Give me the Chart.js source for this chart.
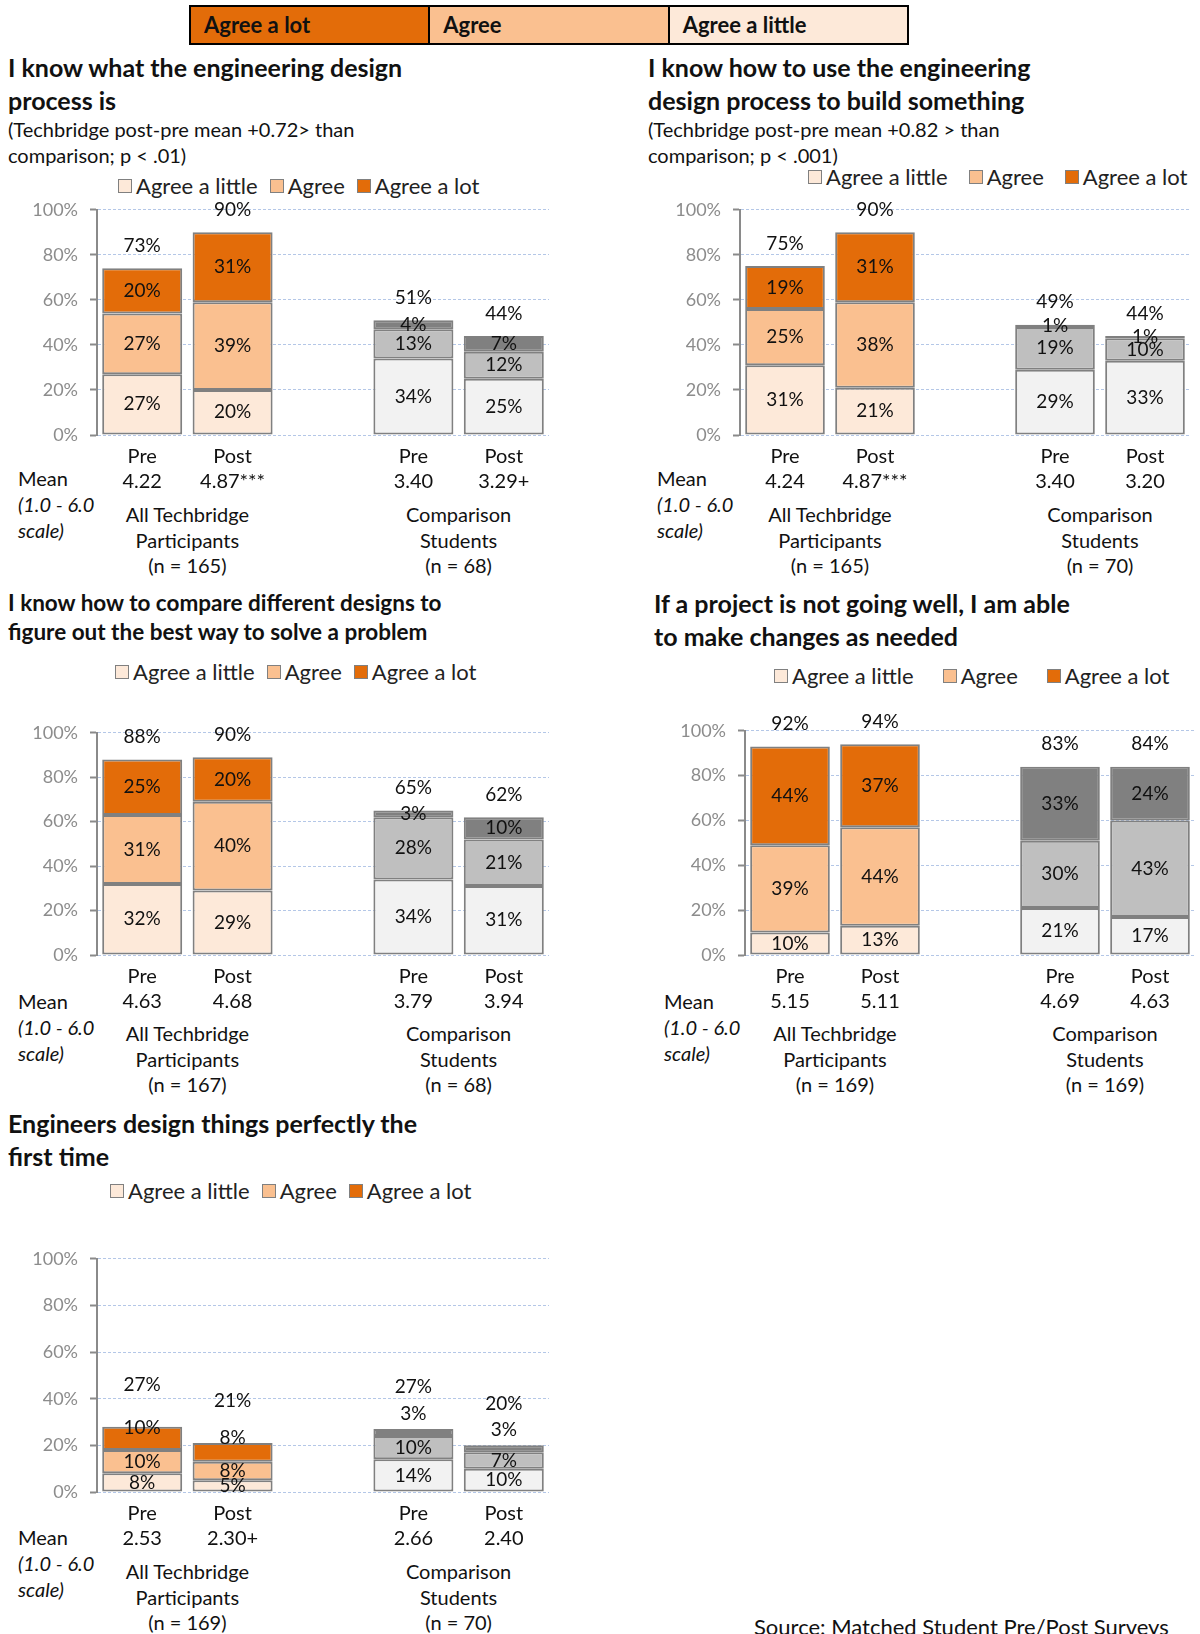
<!DOCTYPE html>
<html lang="en">
<head>
<meta charset="UTF-8">
<title>Engineering design process - pre/post</title>
<script src="https://cdn.jsdelivr.net/npm/chart.js"></script>
<style>
  html, body { margin: 0; padding: 0; background: #fff; }
  body { width: 1200px; height: 1634px; position: relative; overflow: hidden;
         font-family: Lato, "Open Sans", sans-serif; color: #111; }
  .abs { position: absolute; white-space: nowrap; }
  .banner { left: 189px; top: 5px; width: 720px; height: 40px; display: flex;
            border: 2px solid #000; box-sizing: border-box; }
  .banner div { flex: 1; font-weight: bold; font-size: 22px; line-height: 36px;
                padding-left: 13px; border-right: 2px solid #000; }
  .banner div:last-child { border-right: none; }
  .title { font-weight: bold; font-size: 25px; line-height: 33px; }
  .sub { font-size: 20px; line-height: 26px; }
  .legend { display: flex; align-items: center; font-size: 22px; line-height: 26px; color: #222; }
  .legend .box { display: inline-block; width: 14px; height: 14px; border: 1.5px solid #808080;
                 box-sizing: border-box; margin-right: 4px; }
  .mean { font-size: 20px; line-height: 26px; }
  .group { font-size: 20px; line-height: 25.5px; text-align: center; width: 220px; }
</style>
</head>
<body>

<div class="abs banner">
  <div style="background:#e36c09">Agree a lot</div>
  <div style="background:#fac090">Agree</div>
  <div style="background:#fde9d9">Agree a little</div>
</div>

<div class="abs title" style="left:8px; top:51px">I know what the engineering design<br>process is</div>
<div class="abs sub" style="left:8px; top:116px">(Techbridge post-pre mean +0.72&gt; than<br>comparison; p &lt; .01)</div>

<div class="abs title" style="left:648px; top:51px">I know how to use the engineering<br>design process to build something</div>
<div class="abs sub" style="left:648px; top:116px">(Techbridge post-pre mean +0.82 &gt; than<br>comparison; p &lt; .001)</div>

<div class="abs title" style="left:8px; top:588px; font-size:22.5px; line-height:29px">I know how to compare different designs to<br>figure out the best way to solve a problem</div>

<div class="abs title" style="left:654px; top:587px">If a project is not going well, I am able<br>to make changes as needed</div>

<div class="abs title" style="left:8px; top:1107px">Engineers design things perfectly the<br>first time</div>

<div class="abs sub" style="left:754px; top:1614px; font-size:22px">Source: Matched Student Pre/Post Surveys</div>

<script>
// ---- data ----
const categories = ['Pre', 'Post', '', 'Pre', 'Post'];
const seriesNames = ['Agree a little', 'Agree', 'Agree a lot'];
const groupNames = [['All Techbridge', 'Participants'], ['Comparison', 'Students']];
const yTicks = [0, 20, 40, 60, 80, 100];

const p1Little = [27, 20, null, 34, 25];
const p1Agree  = [27, 39, null, 13, 12];
const p1Lot    = [20, 31, null, 4, 7];
const p1Totals = [73, 90, null, 51, 44];
const p1Means  = ['4.22', '4.87***', '', '3.40', '3.29+'];
const p1N      = ['(n = 165)', '(n = 68)'];

const p2Little = [31, 21, null, 29, 33];
const p2Agree  = [25, 38, null, 19, 10];
const p2Lot    = [19, 31, null, 1, 1];
const p2Totals = [75, 90, null, 49, 44];
const p2Means  = ['4.24', '4.87***', '', '3.40', '3.20'];
const p2N      = ['(n = 165)', '(n = 70)'];

const p3Little = [32, 29, null, 34, 31];
const p3Agree  = [31, 40, null, 28, 21];
const p3Lot    = [25, 20, null, 3, 10];
const p3Totals = [88, 90, null, 65, 62];
const p3Means  = ['4.63', '4.68', '', '3.79', '3.94'];
const p3N      = ['(n = 167)', '(n = 68)'];

const p4Little = [10, 13, null, 21, 17];
const p4Agree  = [39, 44, null, 30, 43];
const p4Lot    = [44, 37, null, 33, 24];
const p4Totals = [92, 94, null, 83, 84];
const p4Means  = ['5.15', '5.11', '', '4.69', '4.63'];
const p4N      = ['(n = 169)', '(n = 169)'];

const p5Little = [8, 5, null, 14, 10];
const p5Agree  = [10, 8, null, 10, 7];
const p5Lot    = [10, 8, null, 3, 3];
const p5Totals = [27, 21, null, 27, 20];
const p5Means  = ['2.53', '2.30+', '', '2.66', '2.40'];
const p5N      = ['(n = 169)', '(n = 70)'];

// ---- styling ----
const orangeSet = ['#fde9d9', '#fac090', '#e36c09'];
const graySet   = ['#f2f2f2', '#bfbfbf', '#808080'];
const AXIS_W = 97, PAD_TOP = 20, X_H = 60;

const panels = [
  { series: [p1Little, p1Agree, p1Lot], totals: p1Totals, means: p1Means, n: p1N,
    plotLeft: 97, plotRight: 549, plotTop: 207, plotBottom: 435,
    legendLeft: 118, legendTop: 173, legendGap: 12, meanLeft: 18, meanTop: 465, groupTop: 502, totalLift: 10 },
  { series: [p2Little, p2Agree, p2Lot], totals: p2Totals, means: p2Means, n: p2N,
    plotLeft: 740, plotRight: 1190, plotTop: 207, plotBottom: 435,
    legendLeft: 808, legendTop: 164, legendGap: 21, meanLeft: 657, meanTop: 465, groupTop: 502, totalLift: 10 },
  { series: [p3Little, p3Agree, p3Lot], totals: p3Totals, means: p3Means, n: p3N,
    plotLeft: 97, plotRight: 549, plotTop: 730, plotBottom: 955,
    legendLeft: 115, legendTop: 659, legendGap: 12, meanLeft: 18, meanTop: 988, groupTop: 1021, totalLift: 10 },
  { series: [p4Little, p4Agree, p4Lot], totals: p4Totals, means: p4Means, n: p4N,
    plotLeft: 745, plotRight: 1195, plotTop: 728, plotBottom: 955,
    legendLeft: 774, legendTop: 663, legendGap: 29, meanLeft: 664, meanTop: 988, groupTop: 1021, totalLift: 10 },
  { series: [p5Little, p5Agree, p5Lot], totals: p5Totals, means: p5Means, n: p5N,
    plotLeft: 97, plotRight: 549, plotTop: 1256, plotBottom: 1492,
    legendLeft: 110, legendTop: 1178, legendGap: 12, meanLeft: 18, meanTop: 1524, groupTop: 1559,
    totalLift: 18, topLift: [-0.5, 2, 0, 6.5, 6.5] }
];

function addDiv(cls, left, top, html, extra) {
  const d = document.createElement('div');
  d.className = 'abs ' + cls;
  d.style.left = left + 'px';
  d.style.top = top + 'px';
  if (extra) Object.assign(d.style, extra);
  d.innerHTML = html;
  document.body.appendChild(d);
  return d;
}

function stackSum(chart, j) {
  return chart.data.datasets.reduce((s, ds) => s + (ds.data[j] || 0), 0);
}

function labelPlugin(p) {
  return {
    id: 'segLabels',
    afterDatasetsDraw(chart) {
      const ctx = chart.ctx, y = chart.scales.y;
      ctx.save();
      ctx.font = '19px Lato, "Open Sans", sans-serif';
      ctx.fillStyle = '#111';
      ctx.textAlign = 'center';
      ctx.textBaseline = 'middle';
      chart.data.datasets.forEach((ds, i) => {
        chart.getDatasetMeta(i).data.forEach((bar, j) => {
          const v = ds.data[j];
          if (v == null) return;
          let py = (bar.y + bar.base) / 2;
          if (i === 2 && p.topLift) py = y.getPixelForValue(stackSum(chart, j) + p.topLift[j]);
          ctx.fillText(v + '%', bar.x, py);
        });
      });
      const meta = chart.getDatasetMeta(0);
      p.totals.forEach((t, j) => {
        if (t == null) return;
        ctx.fillText(t + '%', meta.data[j].x, y.getPixelForValue(stackSum(chart, j) + p.totalLift));
      });
      ctx.restore();
    }
  };
}

panels.forEach((p, k) => {
  // legend
  const leg = addDiv('legend', p.legendLeft, p.legendTop, '', { gap: p.legendGap + 'px' });
  seriesNames.forEach((name, i) => {
    const item = document.createElement('span');
    item.style.display = 'flex';
    item.style.alignItems = 'center';
    item.innerHTML = '<span class="box" style="background:' + orangeSet[i] + '"></span>' + name;
    leg.appendChild(item);
  });

  // mean caption
  addDiv('mean', p.meanLeft, p.meanTop, 'Mean<br><i>(1.0 - 6.0</i><br><i>scale)</i>');

  // chart canvas
  const left = p.plotLeft - AXIS_W;
  const top = p.plotTop - PAD_TOP;
  const w = p.plotRight - left + 2;
  const h = PAD_TOP + (p.plotBottom - p.plotTop) + X_H;
  const cv = document.createElement('canvas');
  cv.width = w; cv.height = h;
  cv.style.position = 'absolute';
  cv.style.left = left + 'px';
  cv.style.top = top + 'px';
  document.body.appendChild(cv);

  const labels = categories.map((c, j) => c ? [c, p.means[j]] : '');
  const datasets = p.series.map((data, i) => ({
    label: seriesNames[i],
    data: data,
    backgroundColor: data.map((_, j) => j < 2 ? orangeSet[i] : graySet[i]),
    borderColor: '#808080',
    borderWidth: 2,
    borderSkipped: false,
    barPercentage: 0.885,
    categoryPercentage: 1.0
  }));

  const chart = new Chart(cv.getContext('2d'), {
    type: 'bar',
    data: { labels: labels, datasets: datasets },
    options: {
      responsive: false,
      animation: false,
      layout: { padding: { top: PAD_TOP, right: 2, left: 0, bottom: 0 } },
      plugins: { legend: { display: false }, tooltip: { enabled: false } },
      scales: {
        x: {
          stacked: true,
          grid: { display: false, drawTicks: false },
          border: { display: false },
          ticks: { autoSkip: false, maxRotation: 0, padding: 9, color: '#111',
                   font: { family: 'Lato', size: 20, lineHeight: 1.25 } },
          afterFit(axis) { axis.height = X_H; }
        },
        y: {
          stacked: true,
          min: 0, max: 100,
          afterBuildTicks(axis) { axis.ticks = yTicks.map(v => ({ value: v })); },
          ticks: { padding: 12, color: '#8c8c8c', font: { family: 'Lato', size: 18 },
                   callback: v => v + '%' },
          grid: { color: '#b4c7e7', lineWidth: 1, tickColor: '#8a8a8a', tickLength: 7, tickWidth: 2 },
          border: { color: '#8a8a8a', width: 2, dash: [3, 2] },
          afterFit(axis) { axis.width = AXIS_W; }
        }
      }
    },
    plugins: [labelPlugin(p)]
  });

  // group captions centred under each Pre/Post pair
  const xs = chart.scales.x;
  [[0, 1], [3, 4]].forEach((pair, g) => {
    const cx = left + (xs.getPixelForValue(pair[0]) + xs.getPixelForValue(pair[1])) / 2;
    addDiv('group', cx - 110, p.groupTop, groupNames[g].join('<br>') + '<br>' + p.n[g]);
  });
});
</script>
</body>
</html>
